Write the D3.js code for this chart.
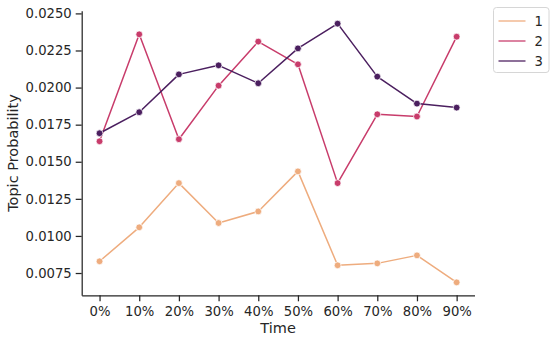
<!DOCTYPE html>
<html>
<head>
<meta charset="utf-8">
<script src="https://cdn.jsdelivr.net/npm/d3@7"></script>
<style>
  body { margin: 0; background: #fff; }
  svg { display: block; }
</style>
</head>
<body>
<svg id="chart" width="556" height="343"></svg>
<script>
// Chart data
var timeLabels = ["0%", "10%", "20%", "30%", "40%", "50%", "60%", "70%", "80%", "90%"];
var topic1 = [0.00829, 0.01058, 0.01356, 0.01087, 0.01165, 0.01435, 0.00802, 0.00815, 0.00869, 0.00687];
var topic2 = [0.01638, 0.02359, 0.01652, 0.02013, 0.02310, 0.02157, 0.01356, 0.01820, 0.01805, 0.02343];
var topic3 = [0.01692, 0.01834, 0.02089, 0.02150, 0.02029, 0.02264, 0.02431, 0.02074, 0.01892, 0.01865];
var seriesNames = ["1", "2", "3"];
var yTicks = [0.0075, 0.0100, 0.0125, 0.0150, 0.0175, 0.0200, 0.0225, 0.0250];

var colors = ["#eeac7e", "#c83c6b", "#4b1f5f"];
var series = [topic1, topic2, topic3];

var FONT = '"DejaVu Sans", sans-serif';
var INK = '#262626';

var svg = d3.select('#chart');
var margin = {top: 10.7, right: 81.5, bottom: 47.7, left: 81.7};
var width = 556 - margin.left - margin.right;
var height = 343 - margin.top - margin.bottom;

var g = svg.append('g')
    .attr('transform', 'translate(' + margin.left + ',' + margin.top + ')');

// x scale with matplotlib-style 5% padding
var n = timeLabels.length;
var pad = (n - 1) * 0.05;
var x = d3.scaleLinear().domain([-pad, n - 1 + pad]).range([0, width]);

// y scale with 5% padding of data range
var all = topic1.concat(topic2, topic3);
var yMin = d3.min(all), yMax = d3.max(all);
var yPad = (yMax - yMin) * 0.05;
var y = d3.scaleLinear().domain([yMin - yPad, yMax + yPad]).range([height, 0]);

// Axes
var xAxis = g.append('g')
    .attr('transform', 'translate(0,' + height + ')')
    .call(d3.axisBottom(x)
        .tickValues(d3.range(n))
        .tickFormat(function(d) { return timeLabels[d]; })
        .tickSize(6).tickPadding(5).tickSizeOuter(0));

var yAxis = g.append('g')
    .call(d3.axisLeft(y)
        .tickValues(yTicks)
        .tickFormat(d3.format('.4f'))
        .tickSize(6).tickPadding(4).tickSizeOuter(0));

// Style both axes like seaborn "ticks"
[xAxis, yAxis].forEach(function(ax) {
    ax.attr('font-family', FONT).attr('font-size', 13.2);
    ax.selectAll('text').attr('fill', INK);
    ax.selectAll('path, line').attr('stroke', INK).attr('stroke-width', 1.25);
});

// Axis labels
svg.append('text')
    .attr('x', margin.left + width / 2)
    .attr('y', 333)
    .attr('text-anchor', 'middle')
    .attr('font-family', FONT)
    .attr('font-size', 14.5)
    .attr('fill', INK)
    .text('Time');

svg.append('text')
    .attr('transform', 'translate(18,' + (margin.top + height / 2) + ') rotate(-90)')
    .attr('text-anchor', 'middle')
    .attr('font-family', FONT)
    .attr('font-size', 14.5)
    .attr('fill', INK)
    .text('Topic Probability');

// Lines and markers
var line = d3.line()
    .x(function(d, i) { return x(i); })
    .y(function(d) { return y(d); });

series.forEach(function(data, k) {
    g.append('path')
        .datum(data)
        .attr('d', line)
        .attr('fill', 'none')
        .attr('stroke', colors[k])
        .attr('stroke-width', 1.5)
        .attr('stroke-linejoin', 'round')
        .attr('stroke-linecap', 'round');

    g.selectAll('.dot' + k)
        .data(data)
        .enter().append('circle')
        .attr('class', 'dot' + k)
        .attr('cx', function(d, i) { return x(i); })
        .attr('cy', function(d) { return y(d); })
        .attr('r', 3.4)
        .attr('fill', colors[k])
        .attr('stroke', '#fff')
        .attr('stroke-width', 0.75);
});

// Legend
var legend = svg.append('g').attr('transform', 'translate(493.5,7.5)');
legend.append('rect')
    .attr('width', 55.5)
    .attr('height', 65)
    .attr('rx', 3)
    .attr('fill', '#fff')
    .attr('fill-opacity', 0.8)
    .attr('stroke', '#d6d6d6')
    .attr('stroke-width', 1);

seriesNames.forEach(function(name, k) {
    var row = legend.append('g').attr('transform', 'translate(0,' + (13.5 + k * 20) + ')');
    row.append('line')
        .attr('x1', 5).attr('x2', 32)
        .attr('stroke', colors[k])
        .attr('stroke-opacity', 0.85)
        .attr('stroke-width', 1.5);
    row.append('text')
        .attr('x', 41)
        .attr('y', 4.8)
        .attr('fill', INK)
        .attr('font-family', FONT)
        .attr('font-size', 13.2)
        .text(name);
});
</script>
</body>
</html>
